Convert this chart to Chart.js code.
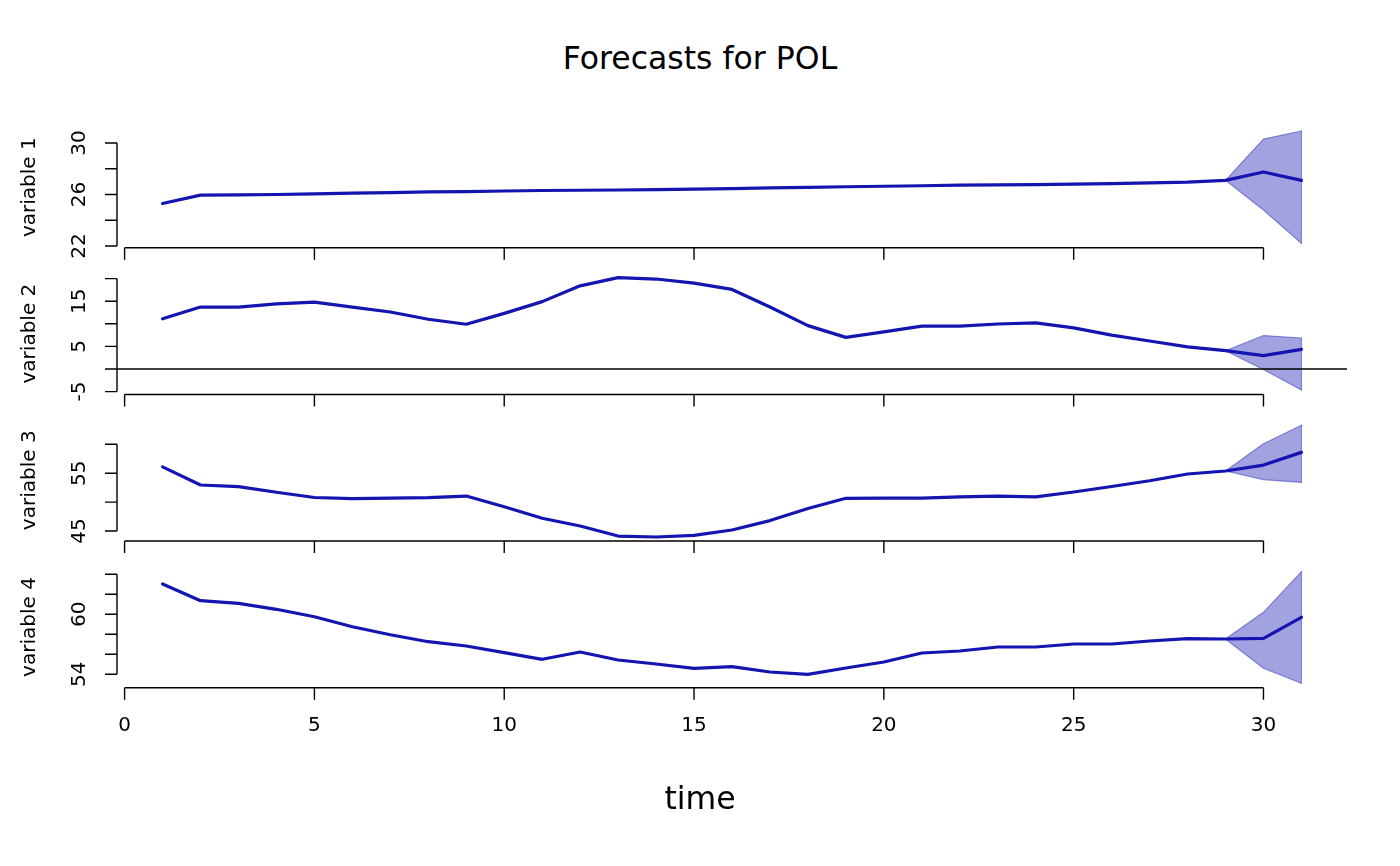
<!DOCTYPE html>
<html>
<head>
<meta charset="utf-8">
<title>Forecasts for POL</title>
<script src="https://cdn.jsdelivr.net/npm/chart.js@4.4.1/dist/chart.umd.min.js"></script>
<style>
    html, body { margin: 0; padding: 0; background: #fff; }
    #page { position: relative; width: 1400px; height: 866px; font-family: 'DejaVu Sans', sans-serif; overflow: hidden; }
    #page canvas { position: absolute; left: 0; top: 0; }
    .outer-label { position: absolute; left: 0; width: 1400px; text-align: center; font-size: 31.5px; line-height: 31.5px; color: #000; }
</style>
</head>
<body>
<div id="page">
    <div class="outer-label" style="top:43.3px">Forecasts for POL</div>
    <canvas id="panel1" width="1400" height="866"></canvas>
    <canvas id="panel2" width="1400" height="866"></canvas>
    <canvas id="panel3" width="1400" height="866"></canvas>
    <canvas id="panel4" width="1400" height="866"></canvas>
    <div class="outer-label" style="top:783.3px">time</div>
</div>
<script>
// --- Data ---

const time = [1, 2, 3, 4, 5, 6, 7, 8, 9, 10, 11, 12, 13, 14, 15, 16, 17, 18, 19, 20, 21, 22, 23, 24, 25, 26, 27, 28, 29, 30, 31];
const fanTime = [29, 30, 31];
const xTicks = [0, 5, 10, 15, 20, 25, 30];

const var1 = [25.3, 25.95, 25.97, 26.0, 26.04, 26.1, 26.15, 26.2, 26.23, 26.27, 26.31, 26.33, 26.35, 26.38, 26.42, 26.46, 26.51, 26.56, 26.6, 26.64, 26.68, 26.72, 26.74, 26.76, 26.8, 26.85, 26.9, 26.96, 27.1, 27.75, 27.1];
const var1Upper = [27.1, 30.3, 30.93];
const var1Lower = [27.1, 24.8, 22.2];

const var2 = [11.1, 13.7, 13.7, 14.4, 14.8, 13.7, 12.6, 11.0, 9.9, 12.3, 14.9, 18.4, 20.2, 19.9, 19.0, 17.6, 13.7, 9.6, 7.0, 8.2, 9.5, 9.5, 9.95, 10.2, 9.1, 7.5, 6.2, 4.9, 4.05, 2.95, 4.35];
const var2Upper = [4.05, 7.4, 6.86];
const var2Lower = [4.05, -0.1, -4.65];

const var3 = [56.1, 52.96, 52.67, 51.7, 50.8, 50.6, 50.7, 50.76, 51.05, 49.2, 47.2, 45.86, 44.13, 43.96, 44.25, 45.17, 46.8, 48.9, 50.66, 50.7, 50.7, 50.9, 51.05, 50.9, 51.75, 52.7, 53.7, 54.86, 55.38, 56.4, 58.6];
const var3Upper = [55.38, 60.1, 63.3];
const var3Lower = [55.38, 53.9, 53.4];

const var4 = [63.03, 61.36, 61.1, 60.5, 59.76, 58.76, 57.95, 57.26, 56.83, 56.16, 55.5, 56.23, 55.43, 55.03, 54.6, 54.76, 54.23, 54.0, 54.63, 55.23, 56.13, 56.33, 56.73, 56.73, 57.03, 57.03, 57.33, 57.56, 57.53, 57.6, 59.7];
const var4Upper = [57.53, 60.2, 64.26];
const var4Lower = [57.53, 54.6, 53.1];

// tick marks and which of them carry a label
const yTicks1 = [22, 24, 26, 28, 30];
const yLabels1 = [22, 26, 30];
const yTicks2 = [-5, 0, 5, 10, 15, 20];
const yLabels2 = [-5, 5, 15];
const yTicks3 = [45, 50, 55, 60];
const yLabels3 = [45, 55];
const yTicks4 = [54, 56, 58, 60, 62, 64];
const yLabels4 = [54, 60];

// --- Styles ---
const LINE_COLOR = '#1414B0';
const BAND_FILL = 'rgba(70, 70, 195, 0.5)';
const BAND_EDGE = 'rgba(80, 80, 200, 0.65)';
const FONT = "'DejaVu Sans', sans-serif";
const TICK_LEN = 12;
const PAGE_H = 866;

// Panel layout: plot region top/bottom in page pixels + y range (R's 4% extension)
const panels = [
    { id: 'panel1', name: 'variable 1', values: var1, upper: var1Upper, lower: var1Lower, yTicks: yTicks1, yLabels: yLabels1, top: 126.5, bottom: 247.8, yMin: 21.86, yMax: 31.28 },
    { id: 'panel2', name: 'variable 2', values: var2, upper: var2Upper, lower: var2Lower, yTicks: yTicks2, yLabels: yLabels2, top: 272.7, bottom: 394.5, yMin: -5.64, yMax: 21.3, zeroLine: true },
    { id: 'panel3', name: 'variable 3', values: var3, upper: var3Upper, lower: var3Lower, yTicks: yTicks3, yLabels: yLabels3, top: 419.5, bottom: 541, yMin: 43.27, yMax: 64.29 },
    { id: 'panel4', name: 'variable 4', values: var4, upper: var4Upper, lower: var4Lower, yTicks: yTicks4, yLabels: yLabels4, top: 566.3, bottom: 687.7, yMin: 52.66, yMax: 64.8, xLabels: true }
];

const toPoints = (xs, ys) => xs.map((x, i) => ({ x: x, y: ys[i] }));

// R style axes: lines only span first..last tick, ticks point outward
const rAxesPlugin = {
    id: 'rAxes',
    afterDatasetsDraw(chart, args, opts) {
        const { ctx, chartArea, scales: { x, y } } = chart;
        ctx.save();
        ctx.strokeStyle = '#000';
        ctx.fillStyle = '#000';
        ctx.lineWidth = 1.4;

        // abline(h = 0)
        if (opts.zeroLine) {
            const p0 = y.getPixelForValue(0);
            ctx.beginPath();
            ctx.moveTo(chartArea.left, p0);
            ctx.lineTo(chartArea.right, p0);
            ctx.stroke();
        }

        // y axis
        const left = chartArea.left;
        const yPix = opts.yTicks.map(v => y.getPixelForValue(v));
        ctx.beginPath();
        ctx.moveTo(left, yPix[0]);
        ctx.lineTo(left, yPix[yPix.length - 1]);
        yPix.forEach(p => {
            ctx.moveTo(left, p);
            ctx.lineTo(left - TICK_LEN, p);
        });
        ctx.stroke();

        ctx.font = `20px ${FONT}`;
        ctx.textAlign = 'center';
        ctx.textBaseline = 'middle';
        opts.yLabels.forEach(v => {
            ctx.save();
            ctx.translate(80, y.getPixelForValue(v));
            ctx.rotate(-Math.PI / 2);
            ctx.fillText(String(v), 0, 0);
            ctx.restore();
        });

        // ylab
        ctx.save();
        ctx.translate(30, (chartArea.top + chartArea.bottom) / 2);
        ctx.rotate(-Math.PI / 2);
        ctx.fillText(opts.name, 0, 0);
        ctx.restore();

        // x axis
        const bottom = chartArea.bottom;
        const xPix = xTicks.map(v => x.getPixelForValue(v));
        ctx.beginPath();
        ctx.moveTo(xPix[0], bottom);
        ctx.lineTo(xPix[xPix.length - 1], bottom);
        xPix.forEach(p => {
            ctx.moveTo(p, bottom);
            ctx.lineTo(p, bottom + TICK_LEN);
        });
        ctx.stroke();

        if (opts.xLabels) {
            xTicks.forEach((v, i) => ctx.fillText(String(v), xPix[i], 726));
        }
        ctx.restore();
    }
};

const buildPanel = (panel) => {
    const last = panel.upper.length - 1;
    const datasets = [
        // forecast line (first dataset = drawn on top)
        { data: toPoints(time, panel.values), borderColor: LINE_COLOR, borderWidth: 3.2, fill: false },
        // upper and lower bound of the fan
        { data: toPoints(fanTime, panel.upper), borderColor: BAND_EDGE, borderWidth: 1.2, fill: false },
        { data: toPoints(fanTime, panel.lower), borderColor: BAND_EDGE, borderWidth: 1.2, fill: 1, backgroundColor: BAND_FILL },
        // closing edge of the polygon
        { data: toPoints([fanTime[last], fanTime[last]], [panel.lower[last], panel.upper[last]]), borderColor: BAND_EDGE, borderWidth: 1.2, fill: false }
    ];

    return new Chart(document.getElementById(panel.id), {
        type: 'line',
        data: { datasets: datasets },
        options: {
            responsive: false,
            animation: false,
            devicePixelRatio: 1,
            elements: { point: { radius: 0 }, line: { tension: 0, borderJoinStyle: 'round', borderCapStyle: 'round' } },
            layout: { padding: { left: 117, right: 53, top: panel.top, bottom: PAGE_H - panel.bottom } },
            scales: {
                x: { type: 'linear', display: false, min: -0.2, max: 32.2 },
                y: { type: 'linear', display: false, min: panel.yMin, max: panel.yMax }
            },
            plugins: {
                legend: { display: false },
                tooltip: { enabled: false },
                rAxes: {
                    name: panel.name,
                    yTicks: panel.yTicks,
                    yLabels: panel.yLabels,
                    zeroLine: !!panel.zeroLine,
                    xLabels: !!panel.xLabels
                }
            }
        },
        plugins: [rAxesPlugin]
    });
};

panels.forEach(buildPanel);
</script>
</body>
</html>
